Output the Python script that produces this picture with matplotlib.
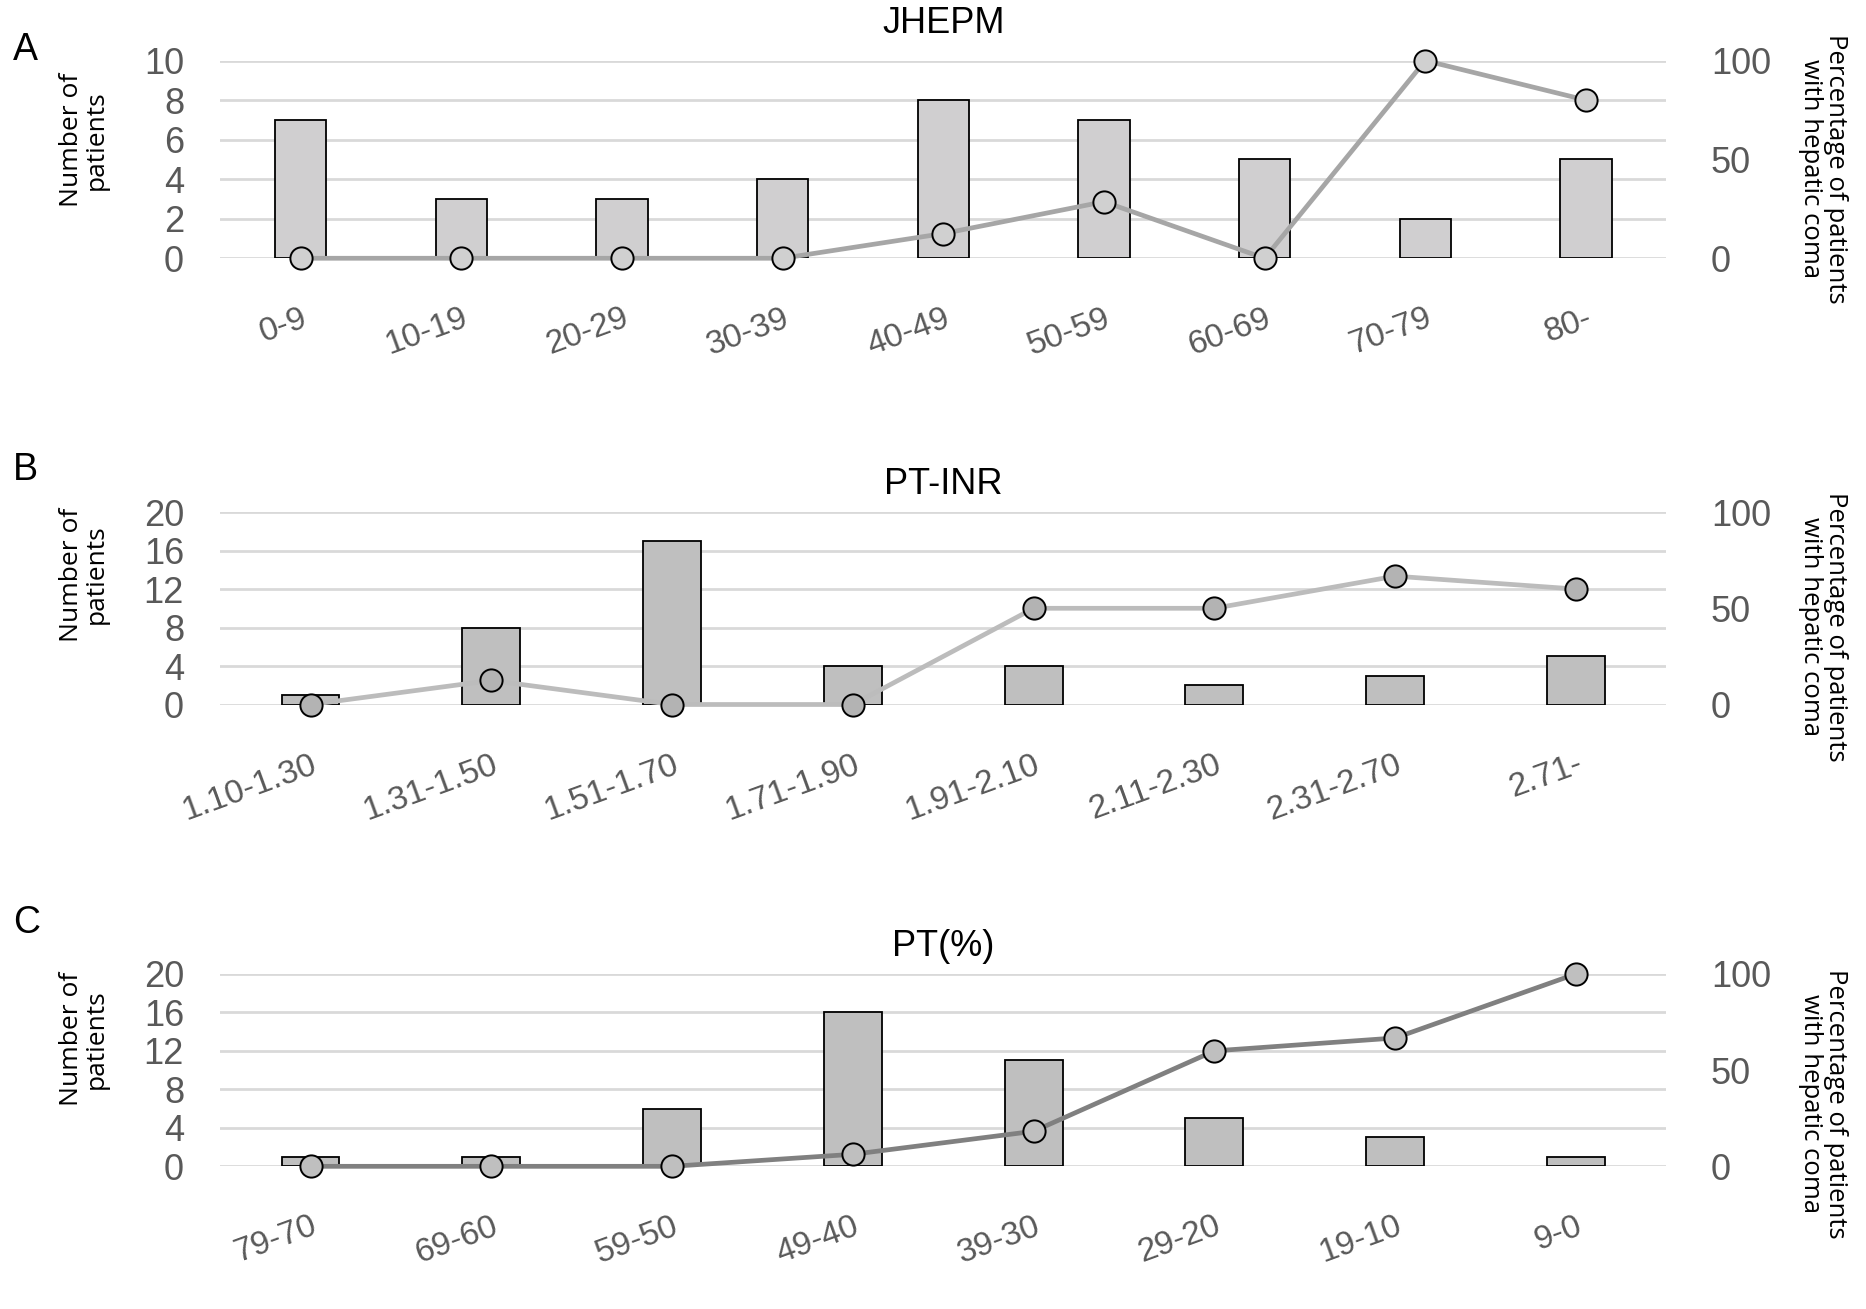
import matplotlib
matplotlib.use('Agg')
import matplotlib.pyplot as plt
import numpy as np

# ---------------- data ----------------
jhepm_cats = ['0-9', '10-19', '20-29', '30-39', '40-49', '50-59', '60-69', '70-79', '80-']
jhepm_counts = [7, 3, 3, 4, 8, 7, 5, 2, 5]
jhepm_pct = [0, 0, 0, 0, 12.5, 28.6, 0, 100, 80]

inr_cats = ['1.10-1.30', '1.31-1.50', '1.51-1.70', '1.71-1.90', '1.91-2.10', '2.11-2.30', '2.31-2.70', '2.71-']
inr_counts = [1, 8, 17, 4, 4, 2, 3, 5]
inr_pct = [0, 12.5, 0, 0, 50, 50, 66.7, 60]

pt_cats = ['79-70', '69-60', '59-50', '49-40', '39-30', '29-20', '19-10', '9-0']
pt_counts = [1, 1, 6, 16, 11, 5, 3, 1]
pt_pct = [0, 0, 0, 6.25, 18.2, 60, 66.7, 100]

left_ticks_A = [0, 2, 4, 6, 8, 10]
left_ticks_BC = [0, 4, 8, 12, 16, 20]
right_ticks = [0, 50, 100]

titles = ['JHEPM', 'PT-INR', 'PT(%)']
letters = ['A', 'B', 'C']
left_label = 'Number of\npatients'
right_label = 'Percentage of patients\nwith hepatic coma'

# ---------------- style ----------------
narrow = ['Liberation Sans', 'DejaVu Sans']
label_font = ['Open Sans', 'DejaVu Sans']
tick_color = '#595959'
grid_color = '#d9d9d9'

fig = plt.figure(figsize=(18.66, 13.09), dpi=100)

panels = [
    dict(cats=jhepm_cats, counts=jhepm_counts, pct=jhepm_pct, lticks=left_ticks_A,
         bottom=0.8027, height=0.151, bar_color='#d0cfd0', line_color='#a6a6a6',
         mface='#d0d0d0', title_pad=20, letter_y=0.962, llab_y=0.893, rlab_y=0.871),
    dict(cats=inr_cats, counts=inr_counts, pct=inr_pct, lticks=left_ticks_BC,
         bottom=0.4618, height=0.147, bar_color='#bfbfbf', line_color='#bcbcbc',
         mface='#b3b3b3', title_pad=13, letter_y=0.641, llab_y=0.561, rlab_y=0.521),
    dict(cats=pt_cats, counts=pt_counts, pct=pt_pct, lticks=left_ticks_BC,
         bottom=0.109, height=0.147, bar_color='#bfbfbf', line_color='#808080',
         mface='#bfbfbf', title_pad=13, letter_y=0.295, llab_y=0.206, rlab_y=0.157),
]

for i, p in enumerate(panels):
    ax = fig.add_axes([0.118, p['bottom'], 0.775, p['height']])
    n = len(p['cats'])
    x = np.arange(n)
    ax.bar(x, p['counts'], width=0.32, color=p['bar_color'], edgecolor='black',
           linewidth=1.3, zorder=3)
    ax.set_xlim(-0.5, n - 0.5)
    ax.set_ylim(0, p['lticks'][-1])
    ax.set_yticks(p['lticks'])
    ax.yaxis.grid(True, color=grid_color, linewidth=2, zorder=0)
    ax.set_axisbelow(True)
    for s in ax.spines.values():
        s.set_visible(False)
    ax.tick_params(axis='y', length=0, pad=26, labelsize=26, labelcolor=tick_color)
    ax.tick_params(axis='x', length=0, pad=32)
    for lab in ax.get_yticklabels():
        lab.set_family(narrow)
    ax.set_xticks(x)
    ax.set_xticklabels(p['cats'], rotation=20, ha='right', rotation_mode='anchor',
                       fontsize=24, color=tick_color, family=narrow)
    ax.set_title(titles[i], fontsize=26, family=narrow, pad=p['title_pad'])

    ax2 = ax.twinx()
    ax2.plot(x, p['pct'], color=p['line_color'], linewidth=3.4, marker='o',
             markersize=16, markerfacecolor=p['mface'], markeredgecolor='black',
             markeredgewidth=1.4, clip_on=False, zorder=5)
    ax2.set_ylim(0, 100)
    ax2.set_yticks(right_ticks)
    for s in ax2.spines.values():
        s.set_visible(False)
    ax2.tick_params(axis='y', length=0, pad=32, labelsize=26, labelcolor=tick_color)
    for lab in ax2.get_yticklabels():
        lab.set_family(narrow)

    fig.text(0.007, p['letter_y'], letters[i], fontsize=27, family=narrow,
             ha='left', va='center')
    fig.text(0.045, p['llab_y'], left_label, rotation=90, fontsize=19,
             family=label_font, ha='center', va='center', linespacing=1.0)
    fig.text(0.977, p['rlab_y'], right_label, rotation=270, fontsize=18.5,
             family=label_font, ha='center', va='center', linespacing=1.0)

fig.savefig('out.png', dpi=100)
